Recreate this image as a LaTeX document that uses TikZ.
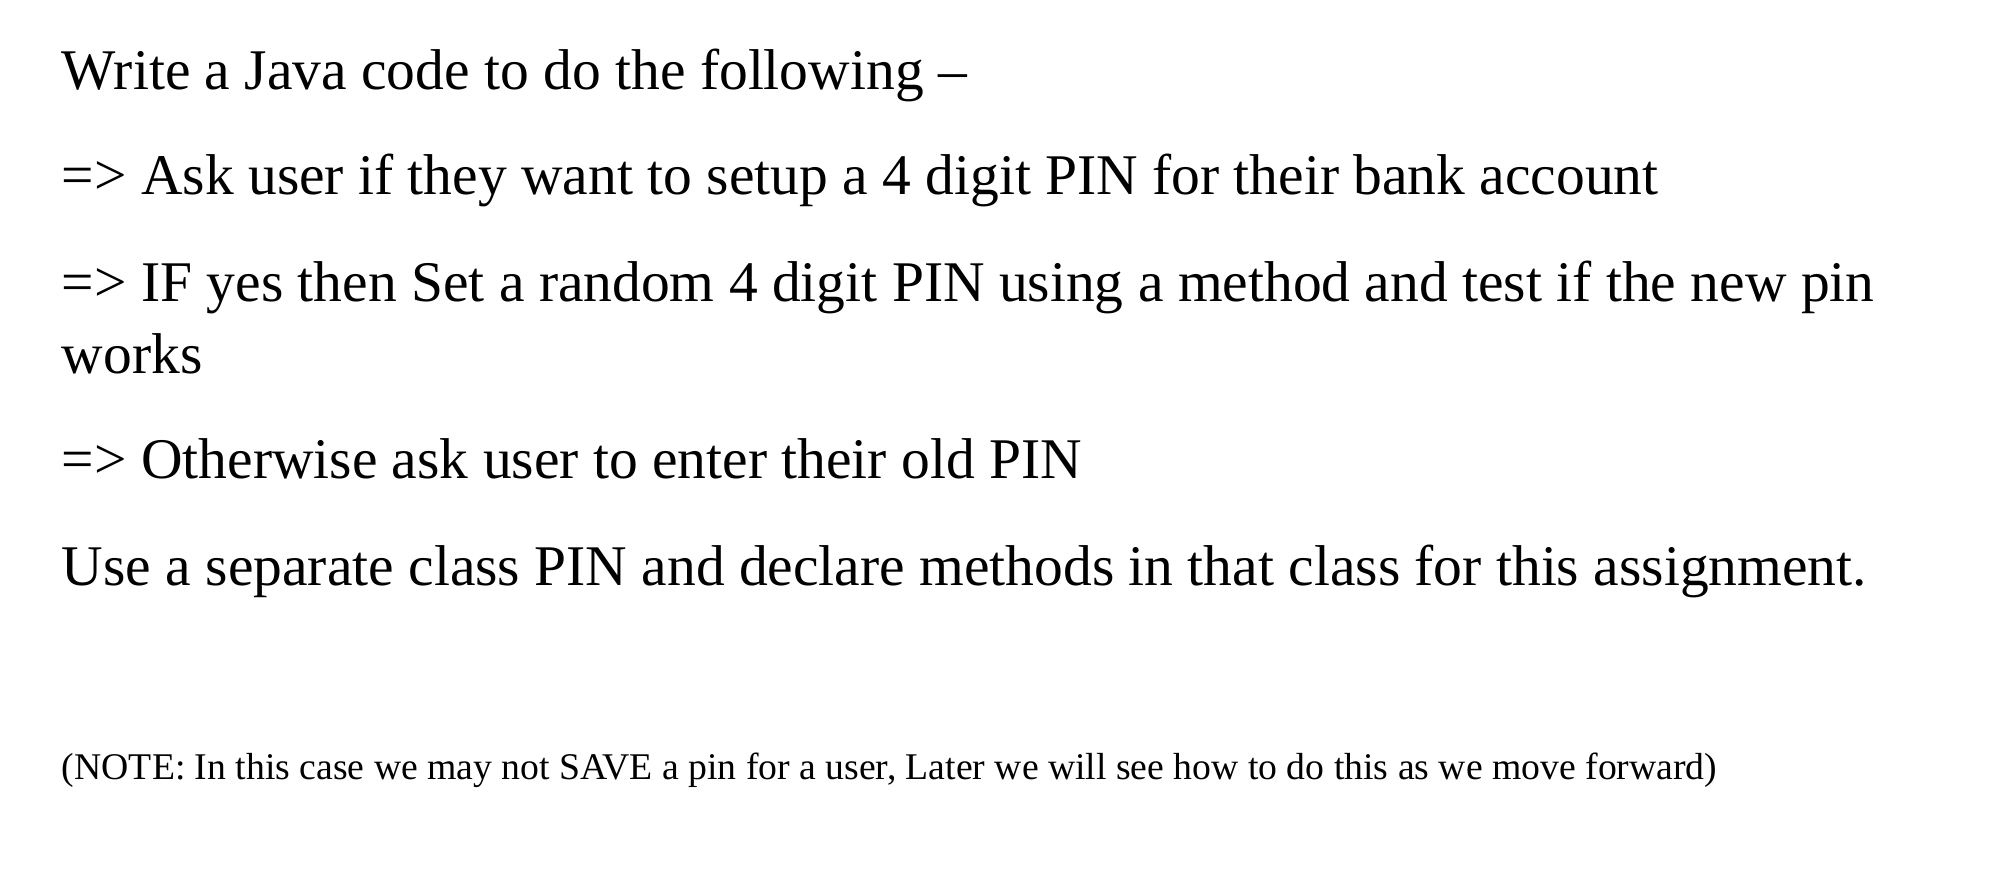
\documentclass[tikz,border=0pt]{standalone}
\usepackage{fontspec}
\setmainfont{Liberation Serif}
\begin{document}
\begin{tikzpicture}[x=0.4pt,y=-0.4pt,
  big/.style={anchor=base west,inner sep=0pt,font=\fontsize{18}{20}\selectfont},
  small/.style={anchor=base west,inner sep=0pt,font=\fontsize{11.8}{13}\selectfont}]
\useasboundingbox (0,0) rectangle (1568,701);
\node[big] (l1) at (48,70) {Write a Java code to do the following –};
\node[big] (l2) at (48,152) {=> Ask user if they want to setup a 4 digit PIN for their bank account};
\node[big] (l3) at (48,236) {=> IF yes then Set a random 4 digit PIN using a method and test if the new pin};
\node[big] (l3b) at (48,292) {works};
\node[big] (l4) at (48,374) {=> Otherwise ask user to enter their old PIN};
\node[big] (l5) at (48,458) {Use a separate class PIN and declare methods in that class for this assignment.};
\node[small] (n) at (48,610) {(NOTE: In this case we may not SAVE a pin for a user, Later we will see how to do this as we move forward)};
\end{tikzpicture}
\end{document}
